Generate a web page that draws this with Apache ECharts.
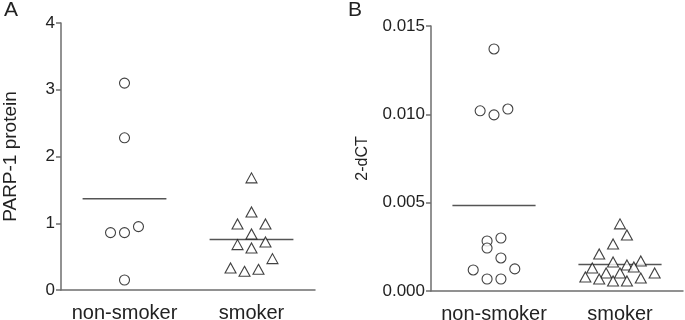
<!DOCTYPE html>
<html><head><meta charset="utf-8">
<script src="https://cdn.jsdelivr.net/npm/echarts@6/dist/echarts.min.js"></script>
<style>html,body{margin:0;padding:0;background:#fff}#c{width:685px;height:320px}</style>
</head><body><div id="c"></div>
<script>
// Categories
var categories = ['non-smoker', 'smoker'];
// Panel A: PARP-1 protein
var aNonSmoker = [3.1, 2.28, 0.95, 0.86, 0.86, 0.15];
var aNonSmokerJitter = [0, 0, 2, -2, 0, 0];
var aSmoker = [1.68, 1.17, 0.99, 0.99, 0.84, 0.72, 0.68, 0.63, 0.47, 0.33, 0.28, 0.31];
var aSmokerJitter = [0, 0, -2, 2, 0, 2, -2, 0, 3, -3, -1, 1];
var aTicks = [0, 1, 2, 3, 4];
// Panel B: 2-dCT
var bNonSmoker = [0.0137, 0.0102, 0.00997, 0.0103, 0.00283, 0.0030, 0.00243, 0.00187, 0.00119, 0.00125, 0.00068, 0.00068];
var bNonSmokerJitter = [0, -2, 0, 2, -1, 1, -1, 1, -3, 3, -1, 1];
var bSmoker = [0.0038, 0.00317, 0.00266, 0.0021, 0.00164, 0.00147, 0.0017, 0.00136, 0.0013, 0.00102, 0.00102, 0.00079, 0.00068, 0.00057, 0.00057, 0.00074, 0.00102];
var bSmokerJitter = [0, 1, -1, -3, -1, 1, 3, 2, -4, -2, 0, -5, -3, -1, 1, 3, 5];
var bTicks = [0, 0.005, 0.010, 0.015];

var STEP = 0.055, HALF = 0.33;
var FONT = 'Liberation Sans, Arial, sans-serif';
function pts(vals, jit, center) { return vals.map(function (v, i) { return [center + jit[i] * STEP, v]; }); }
function mean(a) { return a.reduce(function (s, v) { return s + v; }, 0) / a.length; }
function meanLine(vals, center) { var m = mean(vals); return [[center - HALF, m], [center + HALF, m]]; }

var axisColor = '#6e6e6e';
function xAxisDef(idx) {
  return {
    type: 'value', gridIndex: idx, min: 0, max: 2, interval: 0.5,
    axisLine: { lineStyle: { color: axisColor, width: 1.5 } },
    axisTick: { show: false }, splitLine: { show: false },
    axisLabel: { color: '#222', fontSize: 20, fontFamily: FONT, margin: 13,
      formatter: function (v) { return v === 0.5 ? categories[0] : (v === 1.5 ? categories[1] : ''); } }
  };
}
function yAxisDef(idx, min, max, interval, name, nameSize, nameGap, fmt) {
  return {
    type: 'value', gridIndex: idx, min: min, max: max, interval: interval,
    name: name, nameLocation: 'middle', nameGap: nameGap, nameRotate: 90,
    nameTextStyle: { color: '#222', fontSize: nameSize, fontFamily: FONT },
    axisLine: { show: true, lineStyle: { color: axisColor, width: 1.5 } },
    axisTick: { show: true, length: 5, lineStyle: { color: axisColor, width: 1.5 } },
    splitLine: { show: false },
    axisLabel: { color: '#222', fontSize: 17, fontFamily: FONT, margin: 6, formatter: fmt }
  };
}
var markerStyle = { color: '#fff', borderColor: '#111', borderWidth: 1.1 };
function scatter(xi, data, sym, size) {
  return { type: 'scatter', xAxisIndex: xi, yAxisIndex: xi, data: data, symbol: sym, symbolSize: size,
    itemStyle: markerStyle, z: 3, silent: true };
}
function line(xi, data) {
  return { type: 'line', xAxisIndex: xi, yAxisIndex: xi, data: data, symbol: 'none',
    lineStyle: { color: '#555', width: 1.5 }, z: 2, silent: true };
}

var chart = echarts.init(document.getElementById('c'), null, { renderer: 'canvas' });
chart.setOption({
  animation: false,
  backgroundColor: '#fff',
  title: [
    { text: 'A', left: -1, top: -5, textStyle: { fontSize: 21, fontWeight: 'normal', color: '#222', fontFamily: FONT } },
    { text: 'B', left: 343, top: -5, textStyle: { fontSize: 21, fontWeight: 'normal', color: '#222', fontFamily: FONT } }
  ],
  grid: [
    { left: 61, right: 370, top: 23, bottom: 30, containLabel: false, outerBoundsMode: 'none' },
    { left: 431, right: 2, top: 26, bottom: 29, containLabel: false, outerBoundsMode: 'none' }
  ],
  xAxis: [xAxisDef(0), xAxisDef(1)],
  yAxis: [
    yAxisDef(0, aTicks[0], aTicks[aTicks.length - 1], 1, 'PARP-1 protein', 19, 41, function (v) { return String(v); }),
    yAxisDef(1, bTicks[0], bTicks[bTicks.length - 1], 0.005, '2-dCT', 16, 60, function (v) { return v.toFixed(3); })
  ],
  series: [
    scatter(0, pts(aNonSmoker, aNonSmokerJitter, 0.5), 'circle', 10),
    scatter(0, pts(aSmoker, aSmokerJitter, 1.5), 'triangle', [11, 10]),
    line(0, meanLine(aNonSmoker, 0.5)),
    line(0, meanLine(aSmoker, 1.5)),
    scatter(1, pts(bNonSmoker, bNonSmokerJitter, 0.5), 'circle', 10),
    scatter(1, pts(bSmoker, bSmokerJitter, 1.5), 'triangle', [11, 10]),
    line(1, meanLine(bNonSmoker, 0.5)),
    line(1, meanLine(bSmoker, 1.5))
  ]
});
</script></body></html>
